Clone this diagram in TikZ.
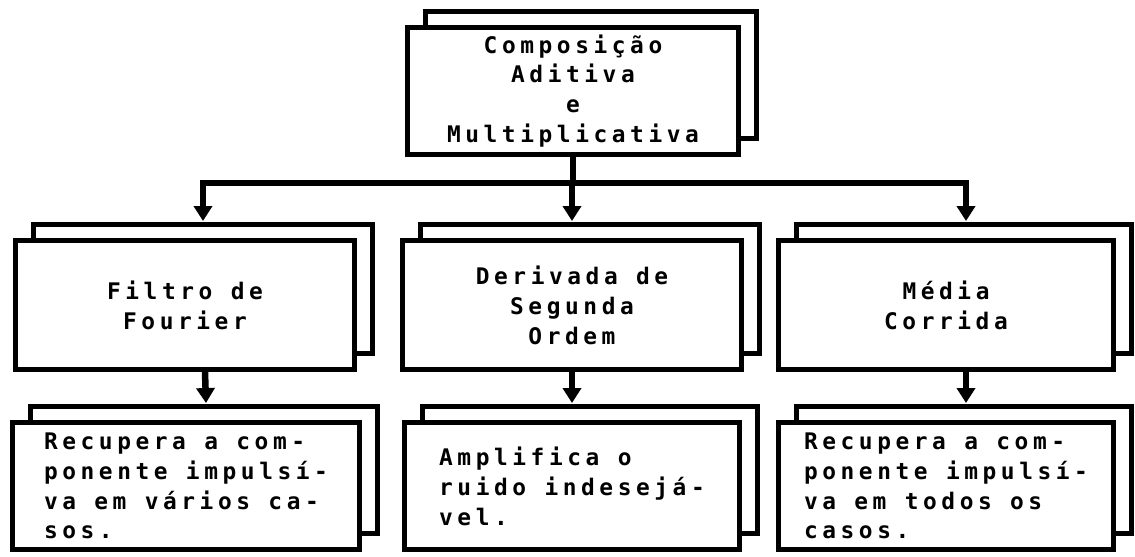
\documentclass[tikz,border=0pt]{standalone}
\usepackage{fontspec}
\usepackage{tikz}
\usetikzlibrary{arrows.meta, positioning, shadows, calc}
\newfontfamily\cardfont{DejaVu Sans Mono}[LetterSpace=20]
\newcommand{\cardtext}{\cardfont\bfseries\fontsize{13}{17}\selectfont}

\begin{document}
\begin{tikzpicture}[x=0.02cm, y=-0.02cm,
          card/.style={draw, line width=0.1cm, fill=white, inner sep=0pt,
                       minimum width=6.8cm, minimum height=2.58cm,
                       font=\cardtext, align=center,
                       copy shadow={shadow xshift=0.36cm, shadow yshift=0.32cm,
                                    draw=black, fill=white, line width=0.1cm}},
          note/.style={card, minimum height=2.54cm, align=left},
          link/.style={line width=0.13cm, line join=miter},
          tip/.style={-{Triangle[length=0.3cm, width=0.36cm]}}]
        \useasboundingbox (0,0) rectangle (1135,556);
        % top box
        \node[card, minimum width=6.64cm, minimum height=2.54cm](top) at (573,91){
          Composição\\
          Aditiva\\
          e\\
          Multiplicativa
        };
        % the three methods
        \node[card](fourier) at (185,305){Filtro de\\Fourier};
        \node[card](deriv) at (572,305){Derivada de\\Segunda\\Ordem};
        \node[card, minimum width=6.7cm](media) at (946,305){Média\\Corrida};
        % what each one gives
        \node[note, minimum width=6.96cm](fourierN) at (186,486){
          Recupera a com-\\
          ponente impulsí-\\
          va em vários ca-\\
          sos.
        };
        \node[note, minimum width=6.72cm](derivN) at (572,486){
          Amplifica o\\
          ruido indesejá-\\
          vel.
        };
        \node[note, minimum width=6.7cm](mediaN) at (946,486){
          Recupera a com-\\
          ponente impulsí-\\
          va em todos os\\
          casos.
        };
        % connectors
        \coordinate (hubR) at (966,183);
        \coordinate (fourierTip) at ($(fourier.north)+(18,-17)$);
        \coordinate (mediaTip) at ($(media.north)+(20,-17)$);
        \coordinate (derivTip) at ($(deriv.north)+(0,-17)$);
        \draw[link, {Triangle[length=0.3cm, width=0.36cm]}-{Triangle[length=0.3cm, width=0.36cm]}]
          (fourierTip) |- (hubR) -- (mediaTip);
        \draw[link](top.south) -- (top.south |- hubR);
        \draw[link, tip](deriv.north |- hubR) -- (derivTip);
        \draw[link, tip]($(fourier.south)+(20,0)$) -- ($(fourierN.north)+(20,-17)$);
        \draw[link, tip](deriv.south) -- ($(derivN.north)+(0,-17)$);
        \draw[link, tip]($(media.south)+(20,0)$) -- ($(mediaN.north)+(20,-17)$);
      \end{tikzpicture}
\end{document}
